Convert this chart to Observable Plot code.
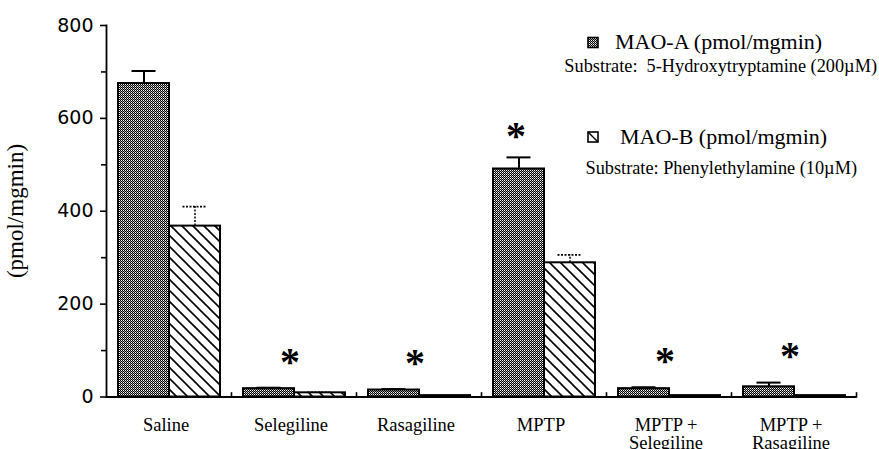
<!DOCTYPE html>
<html>
<head>
<meta charset="utf-8">
<script src="https://cdn.jsdelivr.net/npm/d3@7"></script>
<script src="https://cdn.jsdelivr.net/npm/@observablehq/plot@0.6"></script>
<style>
  html, body { margin: 0; padding: 0; background: #fff; }
  #chart { position: relative; width: 879px; height: 449px; overflow: hidden; }
  #defs { position: absolute; width: 0; height: 0; }
</style>
</head>
<body>
<svg id="defs" aria-hidden="true">
  <defs>
    <!-- dense stipple used for MAO-A -->
    <pattern id="fill-mao-a" width="2" height="2" patternUnits="userSpaceOnUse">
      <rect width="2" height="2" fill="#000"></rect>
      <rect x="1" y="0" width="1" height="1" fill="#fff"></rect>
      <rect x="0" y="1" width="1" height="1" fill="#999"></rect>
    </pattern>
    <!-- back-slash hatching used for MAO-B -->
    <pattern id="fill-mao-b" width="11" height="11" patternUnits="userSpaceOnUse">
      <rect width="11" height="11" fill="#fff"></rect>
      <path d="M-1,-1L12,12M-1,10L1,12M10,-1L12,1" stroke="#000" stroke-width="1.6"></path>
    </pattern>
  </defs>
</svg>
<div id="chart"></div>
<script>
// Treatment groups and their axis labels
const groups = ["Saline", "Selegiline", "Rasagiline", "MPTP", "MPTP+Selegiline", "MPTP+Rasagiline"];
const groupLabels = ["Saline", "Selegiline", "Rasagiline", "MPTP", "MPTP +\nSelegiline", "MPTP +\nRasagiline"];

// MAO-A activity (pmol/mgmin), substrate 5-hydroxytryptamine, with SEM
const maoA = [675, 18, 15, 491, 18, 22];
const maoAErr = [27, 2, 2, 25, 3, 9];

// MAO-B activity (pmol/mgmin), substrate phenylethylamine, with SEM
const maoB = [368, 9, 3, 289, 3, 3];
const maoBErr = [42, 1, 0, 17, 0, 0];

// Groups marked as significantly different from saline
const significant = [false, true, true, true, true, true];

// Y axis ticks
const yMajor = [0, 200, 400, 600, 800];
const yMinor = [100, 300, 500, 700];

const rows = groups.flatMap((g, i) => [
  {group: g, series: "A", value: maoA[i], err: maoAErr[i], sig: significant[i]},
  {group: g, series: "B", value: maoB[i], err: maoBErr[i], sig: significant[i]}
]);
const rowsA = rows.filter(d => d.series === "A");
const rowsB = rows.filter(d => d.series === "B");
const errA = rowsA.filter(d => d.err > 0);
const errB = rowsB.filter(d => d.err > 0);
const starsOnBar = rowsA.filter(d => d.sig && d.value > 100);
const starsLow = rowsA.filter(d => d.sig && d.value <= 100);

const serif = "'Liberation Serif', 'Times New Roman', serif";

const chart = Plot.plot({
  width: 879,
  height: 449,
  marginTop: 25,
  marginBottom: 52.5,
  marginLeft: 106,
  marginRight: 23,
  style: {background: "#fff", color: "#000", fontFamily: serif},
  fx: {domain: groups, padding: 0},
  x: {domain: ["A", "B"], paddingInner: 0, paddingOuter: 0.22, axis: null},
  y: {domain: [0, 800]},
  marks: [
    // y axis: spine, major and minor ticks
    Plot.frame({anchor: "left", facetAnchor: "left", strokeWidth: 1.8}),
    Plot.axisY({ticks: yMajor, tickSize: 6, tickPadding: 7, strokeWidth: 1.6, fontSize: 19,
      fontFamily: "'DejaVu Sans', sans-serif", label: null}),
    Plot.axisY({ticks: yMinor, tickSize: 5, strokeWidth: 1.6, tickFormat: () => "", label: null}),
    // group labels
    Plot.axisFx({anchor: "bottom", tickSize: 0, tickPadding: 20.5, fontSize: 18.5, fontFamily: serif,
      dx: -3, label: null, tickFormat: g => groupLabels[groups.indexOf(g)]}),
    // error bars
    Plot.ruleX(errA, {fx: "group", x: "series", y1: "value", y2: d => d.value + d.err, strokeWidth: 2}),
    Plot.tickY(errA, {fx: "group", x: "series", y: d => d.value + d.err, strokeWidth: 2,
      insetLeft: 13.5, insetRight: 13.5}),
    Plot.ruleX(errB, {fx: "group", x: "series", y1: "value", y2: d => d.value + d.err, strokeWidth: 1.5,
      strokeDasharray: "2,1.5"}),
    Plot.tickY(errB, {fx: "group", x: "series", y: d => d.value + d.err, strokeWidth: 1.6,
      strokeDasharray: "2,1.5", insetLeft: 13.5, insetRight: 13.5}),
    // bars
    Plot.barY(rowsA, {fx: "group", x: "series", y: "value", fill: "url(#fill-mao-a)", stroke: "#000", strokeWidth: 2}),
    Plot.barY(rowsB, {fx: "group", x: "series", y: "value", fill: "url(#fill-mao-b)", stroke: "#000", strokeWidth: 2}),
    // baseline and group separators
    Plot.ruleY([0], {strokeWidth: 2}),
    Plot.frame({anchor: "right", insetTop: 367.5, strokeWidth: 1.6}),
    // significance marks
    Plot.text(starsOnBar, {fx: "group", x: "series", y: d => d.value + d.err, text: () => "*",
      dx: -3, dy: -21, fontSize: 40, fontWeight: "bold", fontFamily: serif}),
    Plot.text(starsLow, {fx: "group", x: "series", y: d => d.value + d.err, text: () => "*",
      dx: 21, dy: -26, fontSize: 40, fontWeight: "bold", fontFamily: serif})
  ]
});

document.getElementById("chart").appendChild(chart);

const svg = d3.select(chart);

// y axis title
svg.append("text")
  .attr("transform", "translate(23,211) rotate(-90)")
  .attr("text-anchor", "middle")
  .style("font-family", serif)
  .style("font-size", "23px")
  .attr("fill", "#000")
  .text("(pmol/mgmin)");

// legend
const legend = svg.append("g").style("font-family", serif).attr("fill", "#000");
const legendItems = [
  {fill: "url(#fill-mao-a)", title: "MAO-A (pmol/mgmin)", sub: "Substrate:  5-Hydroxytryptamine (200\u00b5M)",
   box: [588, 37.5], titleAt: [615, 48.5], subAt: [877, 71.5], slash: false},
  {fill: "#fff", title: "MAO-B (pmol/mgmin)", sub: "Substrate: Phenylethylamine (10\u00b5M)",
   box: [588, 132], titleAt: [620, 143.5], subAt: [857, 173.5], slash: true}
];
for (const it of legendItems) {
  legend.append("rect")
    .attr("x", it.box[0]).attr("y", it.box[1]).attr("width", 10).attr("height", 10)
    .attr("fill", it.fill).attr("stroke", "#000").attr("stroke-width", 1.6);
  if (it.slash) {
    legend.append("line")
      .attr("x1", it.box[0]).attr("y1", it.box[1]).attr("x2", it.box[0] + 10).attr("y2", it.box[1] + 10)
      .attr("stroke", "#000").attr("stroke-width", 1.4);
  }
  legend.append("text")
    .attr("x", it.titleAt[0]).attr("y", it.titleAt[1])
    .attr("text-anchor", "start")
    .style("font-size", "22px")
    .text(it.title);
  legend.append("text")
    .attr("x", it.subAt[0]).attr("y", it.subAt[1])
    .attr("text-anchor", "end")
    .style("font-size", "18.3px")
    .style("white-space", "pre")
    .text(it.sub);
}
</script>
</body>
</html>
